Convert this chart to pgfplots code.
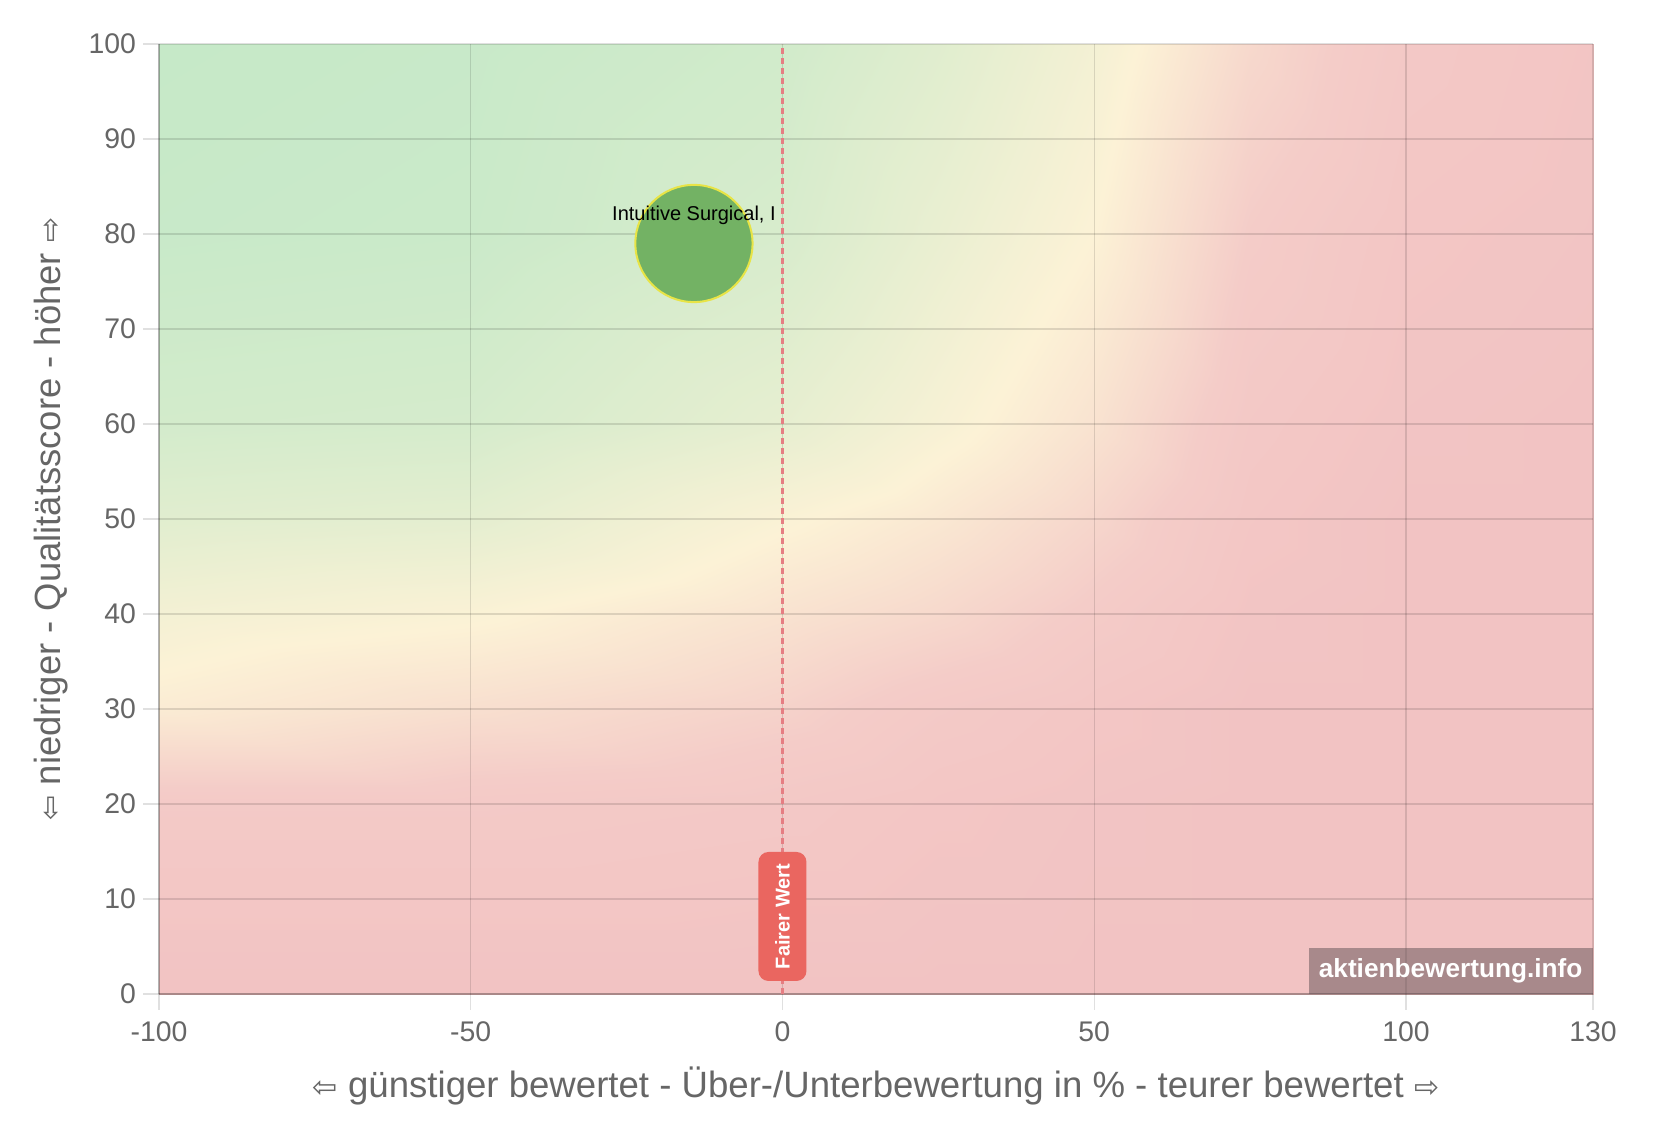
\documentclass[border=0pt]{standalone}
\usepackage{pgfplots}
\pgfplotsset{compat=1.18}
\usepackage{fontspec}
\setmainfont{Liberation Sans}
\newfontfamily\arrowfont{DejaVu Sans}
\definecolor{ticktext}{RGB}{102,102,102}
\definecolor{bubblefill}{RGB}{115,178,100}
\definecolor{bubbleedge}{RGB}{232,228,70}
\definecolor{dashred}{RGB}{230,125,130}
\definecolor{fairred}{RGB}{234,102,96}
\definecolor{wmcolor}{RGB}{95,80,85}
\begin{document}
\begin{tikzpicture}
\begin{axis}[
  set layers=standard,
  at={(0pt,0pt)}, anchor=south west,
  scale only axis, width=717pt, height=475pt,
  xmin=-100, xmax=130, ymin=0, ymax=100,
  xtick={-100,-50,0,50,100,130},
  ytick={0,10,...,100},
  axis lines=left,
  axis line style={-, draw=black, draw opacity=0.2, line width=0.6pt},
  grid=major,
  major grid style={draw=black, draw opacity=0.12, line width=0.6pt},
  tick align=outside, major tick length=8pt,
  tick style={draw=black, draw opacity=0.12, line width=0.6pt},
  ticklabel style={font=\fontsize{14.2}{16}\selectfont, text=ticktext},
  xticklabel style={yshift=-2.5pt},
  /pgf/number format/assume math mode=true,
  xlabel={{\arrowfont\fontsize{15}{18}\selectfont ⇦} günstiger bewertet - Über-/Unterbewertung in \% - teurer bewertet {\arrowfont\fontsize{15}{18}\selectfont ⇨}},
  ylabel={{\arrowfont\fontsize{15}{18}\selectfont ⇦} niedriger - Qualitätsscore - höher {\arrowfont\fontsize{15}{18}\selectfont ⇨}},
  xlabel style={at={(axis description cs:0.5,-0.0968)}, anchor=center, font=\fontsize{18.3}{21}\selectfont, text=ticktext},
  ylabel style={at={(axis description cs:-0.0753,0.5)}, anchor=center, font=\fontsize{18.2}{21}\selectfont, text=ticktext},
  colormap={bgmap}{rgb255(0pt)=(198,233,200) rgb255(5pt)=(252,242,214) rgb255(8pt)=(244,204,200) rgb255(10pt)=(242,195,195)},
  point meta min=0, point meta max=1,
]
% background gradient (value grid: 0 = green, 0.5 = yellow, 1 = red)
\addplot[surf, shader=interp, on layer=axis background, point meta=explicit, mesh/cols=8]
table[meta=c] {
x y c
-100 0 1
-50 0 1
0 0 1
25 0 1
50 0 1
75 0 1
100 0 1
130 0 1
-100 20 0.85
-50 20 0.85
0 20 0.88
25 20 0.93
50 20 0.97
75 20 1
100 20 1
130 20 1
-100 30 0.55
-50 30 0.65
0 30 0.75
25 30 0.85
50 30 0.92
75 30 1
100 30 1
130 30 1
-100 40 0.42
-50 40 0.48
0 40 0.62
25 40 0.70
50 40 0.82
75 40 0.96
100 40 1
130 40 1
-100 50 0.25
-50 50 0.28
0 50 0.48
25 50 0.58
50 50 0.72
75 50 0.92
100 50 1
130 50 1
-100 60 0.12
-50 60 0.14
0 60 0.30
25 60 0.45
50 60 0.62
75 60 0.88
100 60 0.97
130 60 1
-100 80 0.02
-50 80 0.04
0 80 0.16
25 80 0.33
50 80 0.50
75 80 0.80
100 80 0.93
130 80 0.97
-100 100 0
-50 100 0.02
0 100 0.10
25 100 0.24
50 100 0.42
75 100 0.70
100 100 0.88
130 100 0.95
};
% fair value line
\addplot[draw=dashred, line width=1.9pt, dash pattern=on 3pt off 2pt] coordinates {(0,0) (0,100)};
% bubble
\addplot[only marks, mark=*, mark size=29.3pt,
  mark options={fill=bubblefill, draw=bubbleedge, line width=1pt},
  nodes near coords={Intuitive Surgical, I},
  every node near coord/.append style={anchor=center, yshift=14pt, font=\fontsize{10}{12}\selectfont, text=black}]
  coordinates {(-14.2,79)};
\node[rotate=90, fill=fairred, rounded corners=5pt, minimum width=64.5pt, minimum height=24pt,
  inner sep=0pt, text=white, font=\bfseries\fontsize{10}{12}\selectfont] at (axis cs:0,8.16) {Fairer Wert};
\node[anchor=south east, fill=wmcolor, fill opacity=0.5, text opacity=1, minimum width=142pt, minimum height=23pt,
  inner sep=0pt, text=white, font=\bfseries\fontsize{13.1}{15}\selectfont] at (axis cs:130,0) {aktienbewertung.info};
\end{axis}
\path (-79.5pt,-65pt) rectangle (749.5pt,497pt);
\end{tikzpicture}
\end{document}
